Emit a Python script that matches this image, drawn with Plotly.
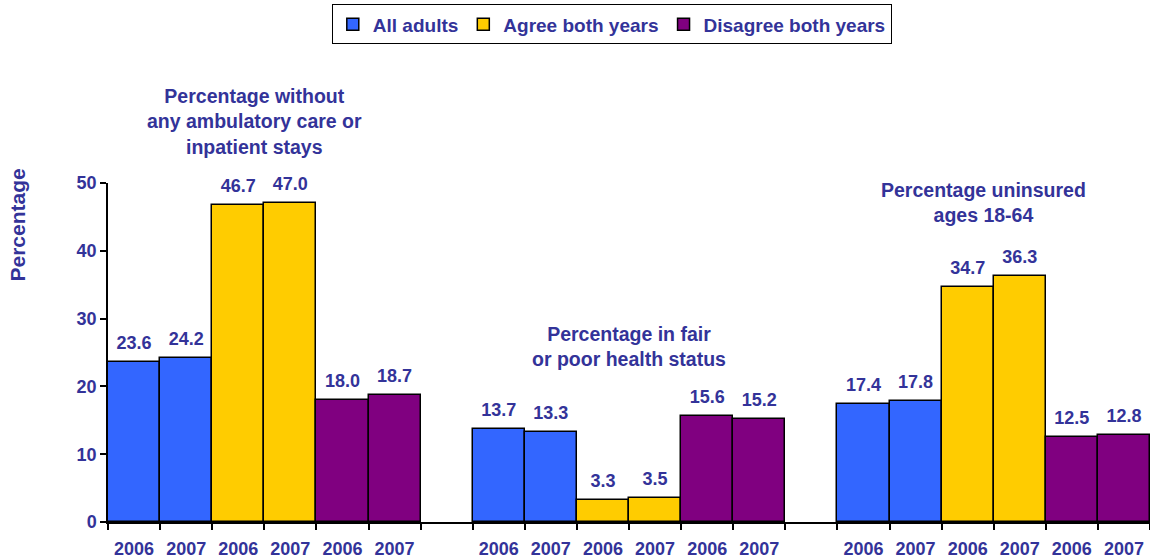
import plotly.graph_objects as go

# Survey results: two years per respondent group, three measures
years = ["2006", "2007"]
groups = ["All adults", "Agree both years", "Disagree both years"]
colors = ["#3366FF", "#FFCC00", "#800080"]

# values per measure, ordered group by group, 2006 then 2007
no_care = [23.6, 24.2, 46.7, 47.0, 18.0, 18.7]
fair_poor = [13.7, 13.3, 3.3, 3.5, 15.6, 15.2]
uninsured = [17.4, 17.8, 34.7, 36.3, 12.5, 12.8]
measures = [no_care, fair_poor, uninsured]

measure_titles = [
    "Percentage without<br>any ambulatory care or<br>inpatient stays",
    "Percentage in fair<br>or poor health status",
    "Percentage uninsured<br>ages 18-64",
]

TXT = "#333399"
FONT = "Liberation Sans, Arial, sans-serif"

# each measure occupies 6 slots, followed by one empty slot
per_measure = len(groups) * len(years)
slots_per_block = per_measure + 1
n_slots = 3 * slots_per_block - 1

fig = go.Figure()
label_traces = []
for g, (name, col) in enumerate(zip(groups, colors)):
    xs, ys = [], []
    for m, vals in enumerate(measures):
        for k in range(len(years)):
            xs.append(m * slots_per_block + g * len(years) + k + 0.5)
            ys.append(vals[g * len(years) + k])
    fig.add_trace(go.Bar(
        x=xs, y=ys, name=f"<b>{name}</b>", width=1,
        marker=dict(color=col, line=dict(color="black", width=1.5)),
    ))
    # value labels sit just above each bar top
    label_traces.append(go.Scatter(
        x=xs, y=ys, mode="markers+text", showlegend=False, hoverinfo="skip",
        marker=dict(size=12, opacity=0),
        text=[f"<b>{v:.1f}</b>" for v in ys], textposition="top center",
        textfont=dict(color=TXT, size=18, family=FONT),
        cliponaxis=False,
    ))
for tr in label_traces:
    fig.add_trace(tr)

# year labels under each bar, ticks on bar boundaries
centers, labels, bounds = [], [], []
for m in range(len(measures)):
    base = m * slots_per_block
    for j in range(per_measure):
        centers.append(base + j + 0.5)
        labels.append(years[j % len(years)])
        bounds.append(base + j)
    bounds.append(base + per_measure)

# measure titles: (x in slots, vertical centre as fraction of plot height)
plot_top, plot_bottom = 183, 522
def frac(py):
    return (plot_bottom - py) / (plot_bottom - plot_top)

title_pos = [(2.82, frac(121)), (10.0, frac(346)), (16.8, frac(202))]
for (tx, ty), t in zip(title_pos, measure_titles):
    fig.add_annotation(x=tx, y=ty, text=f"<b>{t}</b>", showarrow=False,
                       xref="x", yref="y domain", yanchor="middle", xanchor="center",
                       font=dict(color=TXT, size=19.5, family=FONT))

fig.add_annotation(x=(16.5 - 108) / 1042, y=frac(225), xref="x domain", yref="y domain",
                   xanchor="center", yanchor="middle",
                   text="<b>Percentage</b>", textangle=-90, showarrow=False,
                   font=dict(color=TXT, size=21, family=FONT))

fig.update_layout(
    width=1150, height=559,
    margin=dict(l=108, r=0, t=plot_top, b=559 - plot_bottom),
    paper_bgcolor="white", plot_bgcolor="white",
    barmode="overlay", bargap=0,
    showlegend=True,
    legend=dict(orientation="h", xref="container", yref="container",
                x=0.532, y=0.992, xanchor="center", yanchor="top",
                bordercolor="black", borderwidth=1,
                font=dict(color=TXT, size=19, family=FONT),
                traceorder="normal", itemwidth=30, tracegroupgap=0),
    xaxis=dict(range=[0, n_slots], tickmode="array",
               tickvals=centers, ticktext=[f"<b>{l}</b>" for l in labels],
               ticks="", ticklabelstandoff=10,
               showline=True, linecolor="black", linewidth=1.5,
               tickfont=dict(color=TXT, size=18, family=FONT), showgrid=False,
               zeroline=False,
               minor=dict(tickmode="array", tickvals=bounds, ticks="outside",
                          ticklen=6, tickcolor="black", tickwidth=1.5, showgrid=False)),
    yaxis=dict(range=[0, 50], tickvals=[0, 10, 20, 30, 40, 50],
               ticktext=[f"<b>{v}</b>" for v in [0, 10, 20, 30, 40, 50]],
               ticks="outside", ticklen=6, tickwidth=1.5, tickcolor="black",
               showline=True, linecolor="black", linewidth=1.5, showgrid=False,
               zeroline=False, tickfont=dict(color=TXT, size=18, family=FONT)),
)

fig.write_html("out.html")
